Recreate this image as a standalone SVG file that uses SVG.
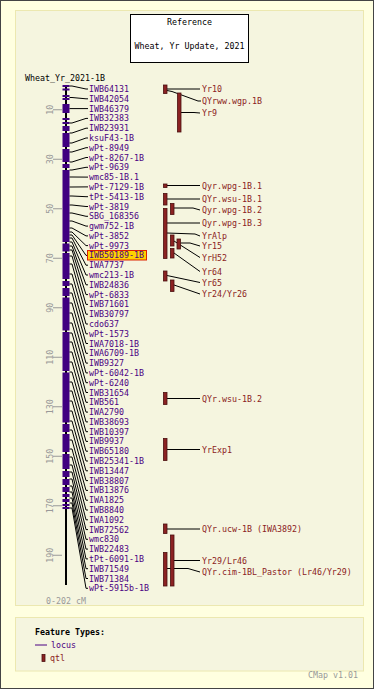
<svg xmlns="http://www.w3.org/2000/svg" width="374" height="689" viewBox="0 0 374 689">
<style>
text{font-family:"DejaVu Sans Mono","Liberation Mono",monospace;font-size:8.3px}
.loc{fill:#4b0082}
.qt{fill:#8b2222}
.blk{fill:#000}
.gry{fill:#999}
.qr{fill:#8b2222;stroke:#4a0f0f;stroke-width:0.8}
.cn{fill:none;stroke:#000;stroke-width:1}
.pb{fill:#400080}
.tk{stroke:#999;stroke-width:1}
.panel{fill:#f5f5df;stroke:#ece8b0;stroke-width:1}
</style>
<rect x="0.5" y="0.5" width="373" height="688" fill="#ffffe0" stroke="#444"/>
<rect class="panel" x="15.5" y="10.5" width="348" height="595"/>
<g id="reference">
<rect x="130.5" y="14.5" width="118" height="48" fill="#fff" stroke="#000"/>
<text class="blk" x="189.5" y="25" text-anchor="middle">Reference</text>
<text class="blk" x="189.5" y="48.5" text-anchor="middle">Wheat, Yr Update, 2021</text>
</g>
<g id="chromosome">
<text class="blk" x="25" y="80.5">Wheat_Yr_2021-1B</text>
<rect x="65" y="85" width="2" height="500" fill="#000"/>
<rect class="pb" x="62.5" y="85" width="7" height="2"/>
<rect class="pb" x="62.5" y="88.5" width="7" height="2"/>
<rect class="pb" x="62.5" y="95" width="7" height="2"/>
<rect class="pb" x="62.5" y="98" width="7" height="2"/>
<rect class="pb" x="62.5" y="104" width="7" height="9"/>
<rect class="pb" x="62.5" y="118" width="7" height="2"/>
<rect class="pb" x="62.5" y="122" width="7" height="2"/>
<rect class="pb" x="62.5" y="126" width="7" height="5"/>
<rect class="pb" x="62.5" y="133" width="7" height="14"/>
<rect class="pb" x="62.5" y="149" width="7" height="13"/>
<rect class="pb" x="62.5" y="164" width="7" height="4"/>
<rect class="pb" x="62.5" y="170" width="7" height="72"/>
<rect class="pb" x="62.5" y="243.5" width="7" height="8"/>
<rect class="pb" x="62.5" y="253" width="7" height="26"/>
<rect class="pb" x="62.5" y="281" width="7" height="5"/>
<rect class="pb" x="62.5" y="288" width="7" height="8"/>
<rect class="pb" x="62.5" y="297.5" width="7" height="33"/>
<rect class="pb" x="62.5" y="332" width="7" height="39"/>
<rect class="pb" x="62.5" y="372.5" width="7" height="50"/>
<rect class="pb" x="62.5" y="424" width="7" height="8"/>
<rect class="pb" x="62.5" y="434" width="7" height="18"/>
<rect class="pb" x="62.5" y="454" width="7" height="15"/>
<rect class="pb" x="62.5" y="471" width="7" height="6"/>
<rect class="pb" x="62.5" y="479" width="7" height="6"/>
<rect class="pb" x="62.5" y="487" width="7" height="5"/>
<rect class="pb" x="62.5" y="494" width="7" height="3"/>
<rect class="pb" x="62.5" y="499" width="7" height="3"/>
<rect class="pb" x="62.5" y="504" width="7" height="2"/>
<rect class="pb" x="62.5" y="507" width="7" height="2"/>
<g class="tk">
<line x1="53" y1="109.75" x2="62" y2="109.75"/>
<line x1="53" y1="159.25" x2="62" y2="159.25"/>
<line x1="53" y1="208.75" x2="62" y2="208.75"/>
<line x1="53" y1="258.25" x2="62" y2="258.25"/>
<line x1="53" y1="307.75" x2="62" y2="307.75"/>
<line x1="53" y1="357.25" x2="62" y2="357.25"/>
<line x1="53" y1="406.75" x2="62" y2="406.75"/>
<line x1="53" y1="456.25" x2="62" y2="456.25"/>
<line x1="53" y1="505.75" x2="62" y2="505.75"/>
<line x1="53" y1="555.25" x2="62" y2="555.25"/>
</g>
<g class="gry" text-anchor="middle">
<text transform="translate(52.5,109.75) rotate(-90)">10</text>
<text transform="translate(52.5,159.25) rotate(-90)">30</text>
<text transform="translate(52.5,208.75) rotate(-90)">50</text>
<text transform="translate(52.5,258.25) rotate(-90)">70</text>
<text transform="translate(52.5,307.75) rotate(-90)">90</text>
<text transform="translate(52.5,357.25) rotate(-90)">110</text>
<text transform="translate(52.5,406.75) rotate(-90)">130</text>
<text transform="translate(52.5,456.25) rotate(-90)">150</text>
<text transform="translate(52.5,505.75) rotate(-90)">170</text>
<text transform="translate(52.5,555.25) rotate(-90)">190</text>
</g>
<text class="gry" x="46" y="604">0-202 cM</text>
</g>
<g id="connectors">
<polyline class="cn" points="69.5,86 72,86 86,89 88,89"/>
<polyline class="cn" points="69.5,97.5 72,97.5 86,98.8 88,98.8"/>
<polyline class="cn" points="69.5,108.6 72,108.6 86,108.6 88,108.6"/>
<polyline class="cn" points="69.5,123 72,123 86,118.4 88,118.4"/>
<polyline class="cn" points="69.5,133 72,133 86,128.2 88,128.2"/>
<polyline class="cn" points="69.5,143 72,143 86,138 88,138"/>
<polyline class="cn" points="69.5,152 72,152 86,147.7 88,147.7"/>
<polyline class="cn" points="69.5,162 72,162 86,157.5 88,157.5"/>
<polyline class="cn" points="69.5,170 72,170 86,167.3 88,167.3"/>
<polyline class="cn" points="69.5,177 72,177 86,177.1 88,177.1"/>
<polyline class="cn" points="69.5,187 72,187 86,186.9 88,186.9"/>
<polyline class="cn" points="69.5,196 72,196 86,196.7 88,196.7"/>
<polyline class="cn" points="69.5,205 72,205 86,206.5 88,206.5"/>
<polyline class="cn" points="69.5,213 72,213 86,216.3 88,216.3"/>
<polyline class="cn" points="69.5,221 72,221 86,226.1 88,226.1"/>
<polyline class="cn" points="69.5,228 72,228 86,235.9 88,235.9"/>
<polyline class="cn" points="69.5,232 72,232 86,245.6 88,245.6"/>
<polyline class="cn" points="69.5,235 72,235 86,255.4 88,255.4"/>
<polyline class="cn" points="69.5,238 72,238 86,265.2 88,265.2"/>
<polyline class="cn" points="69.5,242 72,242 86,275 88,275"/>
<polyline class="cn" points="69.5,246 72,246 86,284.8 88,284.8"/>
<polyline class="cn" points="69.5,250 72,250 86,294.6 88,294.6"/>
<polyline class="cn" points="69.5,256 72,256 86,304.4 88,304.4"/>
<polyline class="cn" points="69.5,264 72,264 86,314.2 88,314.2"/>
<polyline class="cn" points="69.5,274 72,274 86,324 88,324"/>
<polyline class="cn" points="69.5,284 72,284 86,333.8 88,333.8"/>
<polyline class="cn" points="69.5,293 72,293 86,343.5 88,343.5"/>
<polyline class="cn" points="69.5,303 72,303 86,353.3 88,353.3"/>
<polyline class="cn" points="69.5,313 72,313 86,363.1 88,363.1"/>
<polyline class="cn" points="69.5,323 72,323 86,372.9 88,372.9"/>
<polyline class="cn" points="69.5,333 72,333 86,382.7 88,382.7"/>
<polyline class="cn" points="69.5,342 72,342 86,392.5 88,392.5"/>
<polyline class="cn" points="69.5,352 72,352 86,402.3 88,402.3"/>
<polyline class="cn" points="69.5,362 72,362 86,412.1 88,412.1"/>
<polyline class="cn" points="69.5,372 72,372 86,421.9 88,421.9"/>
<polyline class="cn" points="69.5,382 72,382 86,431.7 88,431.7"/>
<polyline class="cn" points="69.5,391 72,391 86,441.4 88,441.4"/>
<polyline class="cn" points="69.5,401 72,401 86,451.2 88,451.2"/>
<polyline class="cn" points="69.5,411 72,411 86,461 88,461"/>
<polyline class="cn" points="69.5,421 72,421 86,470.8 88,470.8"/>
<polyline class="cn" points="69.5,430 72,430 86,480.6 88,480.6"/>
<polyline class="cn" points="69.5,440 72,440 86,490.4 88,490.4"/>
<polyline class="cn" points="69.5,449 72,449 86,500.2 88,500.2"/>
<polyline class="cn" points="69.5,457 72,457 86,510 88,510"/>
<polyline class="cn" points="69.5,465 72,465 86,519.8 88,519.8"/>
<polyline class="cn" points="69.5,472 72,472 86,529.6 88,529.6"/>
<polyline class="cn" points="69.5,479 72,479 86,539.3 88,539.3"/>
<polyline class="cn" points="69.5,486 72,486 86,549.1 88,549.1"/>
<polyline class="cn" points="69.5,492 72,492 86,558.9 88,558.9"/>
<polyline class="cn" points="69.5,498 72,498 86,568.7 88,568.7"/>
<polyline class="cn" points="69.5,503 72,503 86,578.5 88,578.5"/>
<polyline class="cn" points="69.5,508 72,508 86,588.3 88,588.3"/>
<polyline class="cn" points="167,89 200,89"/>
<polyline class="cn" points="167,90.5 172,91.5 198,101 201,101"/>
<polyline class="cn" points="181,112.5 194,112.5 200,113"/>
<polyline class="cn" points="167,185.5 200,185.5"/>
<polyline class="cn" points="167,199 200,199"/>
<polyline class="cn" points="174,208 193,208 200,210"/>
<polyline class="cn" points="167,223 200,223"/>
<polyline class="cn" points="167,233 195,234 200,236"/>
<polyline class="cn" points="180.5,243 190,243 200,246"/>
<polyline class="cn" points="174,241 200,257.5"/>
<polyline class="cn" points="174,253 200,271.5"/>
<polyline class="cn" points="167,275.5 200,282.5"/>
<polyline class="cn" points="174,285 200,294"/>
<polyline class="cn" points="167,398.5 200,398.5"/>
<polyline class="cn" points="167,449.5 200,449.5"/>
<polyline class="cn" points="167,529 200,529"/>
<polyline class="cn" points="174,560.5 200,560.5"/>
<polyline class="cn" points="167,568.5 188,568.5 200,572"/>
</g>
<g id="loci" class="loc">
<g id="l0"><text x="89" y="92">IWB64131</text></g>
<g id="l1"><text x="89" y="101.8">IWB42054</text></g>
<g id="l2"><text x="89" y="111.6">IWB46379</text></g>
<g id="l3"><text x="89" y="121.4">IWB32383</text></g>
<g id="l4"><text x="89" y="131.2">IWB23931</text></g>
<g id="l5"><text x="89" y="141">ksuF43-1B</text></g>
<g id="l6"><text x="89" y="150.7">wPt-8949</text></g>
<g id="l7"><text x="89" y="160.5">wPt-8267-1B</text></g>
<g id="l8"><text x="89" y="170.3">wPt-9639</text></g>
<g id="l9"><text x="89" y="180.1">wmc85-1B.1</text></g>
<g id="l10"><text x="89" y="189.9">wPt-7129-1B</text></g>
<g id="l11"><text x="89" y="199.7">tPt-5413-1B</text></g>
<g id="l12"><text x="89" y="209.5">wPt-3819</text></g>
<g id="l13"><text x="89" y="219.3">SBG_168356</text></g>
<g id="l14"><text x="89" y="229.1">gwm752-1B</text></g>
<g id="l15"><text x="89" y="238.9">wPt-3852</text></g>
<g id="l16"><text x="89" y="248.6">wPt-9973</text></g>
<g id="l17"><rect x="87.5" y="250.5" width="59" height="9.5" fill="#ffd200" stroke="#dd2200" stroke-width="1"/><text x="89" y="258.4">IWB50189-1B</text></g>
<g id="l18"><text x="89" y="268.2">IWA7737</text></g>
<g id="l19"><text x="89" y="278">wmc213-1B</text></g>
<g id="l20"><text x="89" y="287.8">IWB24836</text></g>
<g id="l21"><text x="89" y="297.6">wPt-6833</text></g>
<g id="l22"><text x="89" y="307.4">IWB71601</text></g>
<g id="l23"><text x="89" y="317.2">IWB30797</text></g>
<g id="l24"><text x="89" y="327">cdo637</text></g>
<g id="l25"><text x="89" y="336.8">wPt-1573</text></g>
<g id="l26"><text x="89" y="346.5">IWA7018-1B</text></g>
<g id="l27"><text x="89" y="356.3">IWA6709-1B</text></g>
<g id="l28"><text x="89" y="366.1">IWB9327</text></g>
<g id="l29"><text x="89" y="375.9">wPt-6042-1B</text></g>
<g id="l30"><text x="89" y="385.7">wPt-6240</text></g>
<g id="l31"><text x="89" y="395.5">IWB31654</text></g>
<g id="l32"><text x="89" y="405.3">IWB561</text></g>
<g id="l33"><text x="89" y="415.1">IWA2790</text></g>
<g id="l34"><text x="89" y="424.9">IWB38693</text></g>
<g id="l35"><text x="89" y="434.7">IWB10397</text></g>
<g id="l36"><text x="89" y="444.4">IWB9937</text></g>
<g id="l37"><text x="89" y="454.2">IWB65180</text></g>
<g id="l38"><text x="89" y="464">IWB25341-1B</text></g>
<g id="l39"><text x="89" y="473.8">IWB13447</text></g>
<g id="l40"><text x="89" y="483.6">IWB38807</text></g>
<g id="l41"><text x="89" y="493.4">IWB13876</text></g>
<g id="l42"><text x="89" y="503.2">IWA1825</text></g>
<g id="l43"><text x="89" y="513">IWB8840</text></g>
<g id="l44"><text x="89" y="522.8">IWA1092</text></g>
<g id="l45"><text x="89" y="532.6">IWB72562</text></g>
<g id="l46"><text x="89" y="542.3">wmc830</text></g>
<g id="l47"><text x="89" y="552.1">IWB22483</text></g>
<g id="l48"><text x="89" y="561.9">tPt-6091-1B</text></g>
<g id="l49"><text x="89" y="571.7">IWB71549</text></g>
<g id="l50"><text x="89" y="581.5">IWB71384</text></g>
<g id="l51"><text x="89" y="591.3">wPt-5915b-1B</text></g>
</g>
<g id="qtls">
<g id="q-yr10"><rect class="qr" x="163.5" y="85" width="3.5" height="8.5"/><text class="qt" x="202" y="92">Yr10</text></g>
<g id="q-wgp"><text class="qt" x="202" y="104">QYrww.wgp.1B</text></g>
<g id="q-yr9"><rect class="qr" x="177.5" y="93" width="3.5" height="39"/><text class="qt" x="202" y="116">Yr9</text></g>
<g id="q-wpg1"><rect class="qr" x="163.5" y="184" width="3.5" height="3.5"/><text class="qt" x="202" y="188.5">Qyr.wpg-1B.1</text></g>
<g id="q-wsu1"><rect class="qr" x="163.5" y="193.5" width="3.5" height="11.5"/><text class="qt" x="202" y="202">QYr.wsu-1B.1</text></g>
<g id="q-wpg2"><rect class="qr" x="170.5" y="203.5" width="3.5" height="11"/><text class="qt" x="202" y="213">Qyr.wpg-1B.2</text></g>
<g id="q-wpg3"><rect class="qr" x="163.5" y="208.5" width="3.5" height="50"/><text class="qt" x="202" y="226">Qyr.wpg-1B.3</text></g>
<g id="q-yralp"><text class="qt" x="202" y="239">YrAlp</text></g>
<g id="q-yr15"><rect class="qr" x="170.5" y="235" width="3.5" height="11"/><rect class="qr" x="177" y="239" width="3.5" height="10"/><text class="qt" x="202" y="249">Yr15</text></g>
<g id="q-yrh52"><text class="qt" x="202" y="260.5">YrH52</text></g>
<g id="q-yr64"><rect class="qr" x="170.5" y="248.5" width="3.5" height="9.5"/><text class="qt" x="202" y="274.5">Yr64</text></g>
<g id="q-yr65"><rect class="qr" x="163.5" y="271" width="3.5" height="10"/><text class="qt" x="202" y="285.5">Yr65</text></g>
<g id="q-yr24"><rect class="qr" x="170.5" y="280" width="3.5" height="11.5"/><text class="qt" x="202" y="297">Yr24/Yr26</text></g>
<g id="q-wsu2"><rect class="qr" x="163.5" y="392.5" width="3.5" height="12"/><text class="qt" x="202" y="401.5">QYr.wsu-1B.2</text></g>
<g id="q-yrexp1"><rect class="qr" x="163.5" y="438.5" width="3.5" height="22"/><text class="qt" x="202" y="452.5">YrExp1</text></g>
<g id="q-ucw"><rect class="qr" x="163.5" y="524" width="3.5" height="9.5"/><text class="qt" x="202" y="532">QYr.ucw-1B (IWA3892)</text></g>
<g id="q-yr29"><rect class="qr" x="170.5" y="535" width="3.5" height="51"/><text class="qt" x="202" y="563.5">Yr29/Lr46</text></g>
<g id="q-cim"><rect class="qr" x="163.5" y="552.5" width="3.5" height="33.5"/><text class="qt" x="202" y="575">QYr.cim-1BL_Pastor (Lr46/Yr29)</text></g>
</g>
<g id="legend">
<rect class="panel" x="15.5" y="617.5" width="348" height="53.5"/>
<text class="blk" x="35" y="634.5" font-weight="bold">Feature Types:</text>
<line x1="35" y1="645" x2="47" y2="645" stroke="#4b0082" stroke-width="1"/>
<text class="loc" x="51" y="648">locus</text>
<rect class="qr" x="42" y="654.5" width="3" height="7"/>
<text class="qt" x="50" y="661">qtl</text>
</g>
<text class="gry" x="308" y="678">CMap v1.01</text>
</svg>
